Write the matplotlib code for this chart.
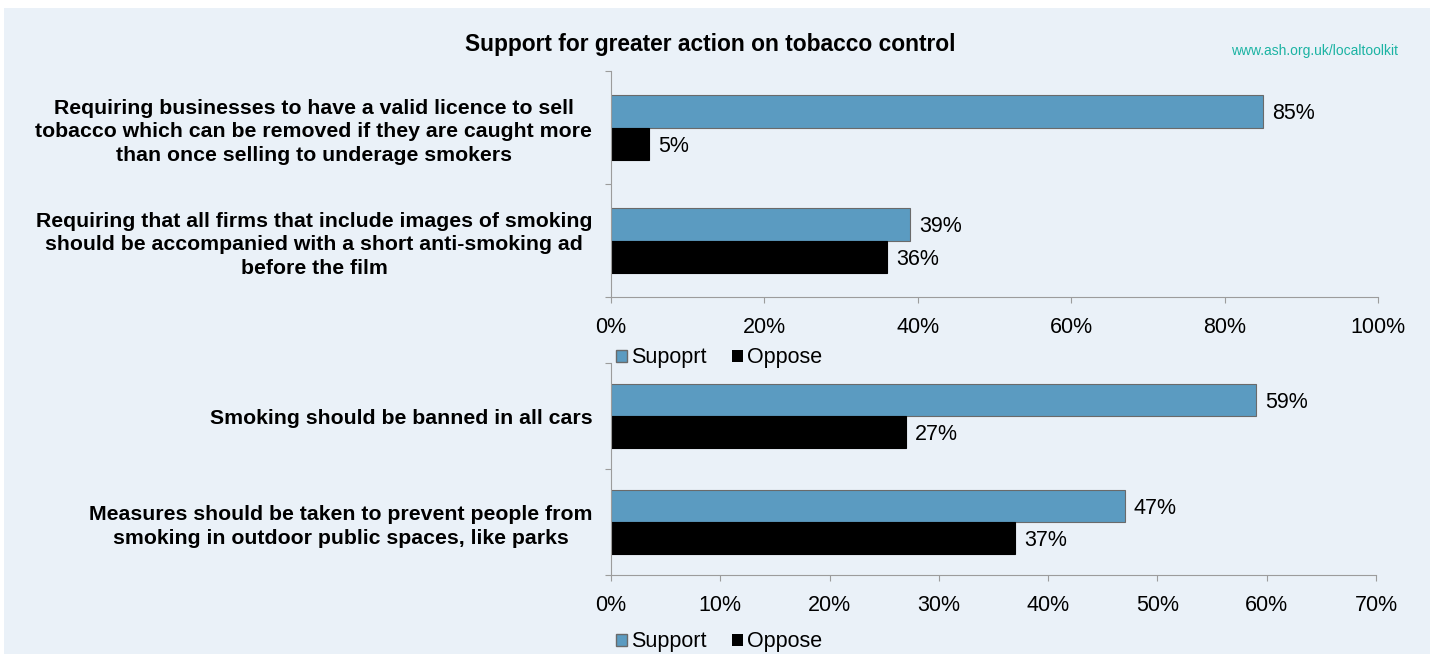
import matplotlib
matplotlib.use("Agg")
import matplotlib.pyplot as plt
from matplotlib.patches import Rectangle, Patch
import numpy as np

plt.rcParams['font.family'] = ['Liberation Sans', 'DejaVu Sans']

# top panel data
top_cats = ["Requiring businesses to have a valid licence to sell\ntobacco which can be removed if they are caught more\nthan once selling to underage smokers",
            "Requiring that all firms that include images of smoking\nshould be accompanied with a short anti-smoking ad\nbefore the film"]
top_support = [85, 39]
top_oppose = [5, 36]
top_ticks = [0, 20, 40, 60, 80, 100]

# bottom panel data
bot_cats = ["Smoking should be banned in all cars",
            "Measures should be taken to prevent people from\nsmoking in outdoor public spaces, like parks"]
bot_support = [59, 47]
bot_oppose = [27, 37]
bot_ticks = [0, 10, 20, 30, 40, 50, 60, 70]

bg = '#EAF1F8'
blue = '#5B9BC1'
axis_grey = '#9C9C9C'
fs = 15.5

fig = plt.figure(figsize=(14.3, 6.54), dpi=100, facecolor='white')
fig.patches.append(Rectangle((4/1430, 0), 1, 1 - 8/654, transform=fig.transFigure,
                             facecolor=bg, edgecolor='none', zorder=-10))


def panel(rect, cats, sup, opp, ticks, bh):
    ax = fig.add_axes(rect)
    ax.set_facecolor('none')
    y = np.arange(len(cats))
    ax.barh(y - bh/2, sup, height=bh, color=blue, edgecolor='#6A6A6A', linewidth=0.8)
    ax.barh(y + bh/2, opp, height=bh, color='black', edgecolor='black', linewidth=0.8)
    for yi, s, o in zip(y, sup, opp):
        ax.text(s + ticks[-1]*0.012, yi - bh/2, f"{s}%", va='center_baseline', ha='left', fontsize=fs)
        ax.text(o + ticks[-1]*0.012, yi + bh/2, f"{o}%", va='center_baseline', ha='left', fontsize=fs)
    ax.set_xlim(0, ticks[-1])
    ax.set_ylim(len(cats) - 0.5, -0.5)
    ax.set_xticks(ticks)
    ax.set_xticklabels([f"{t}%" for t in ticks], fontsize=fs)
    ax.set_yticks(np.arange(len(cats) + 1) - 0.5)
    ax.set_yticklabels([])
    ax.set_yticks(y, minor=True)
    ax.set_yticklabels(cats, minor=True, fontsize=15.3, fontweight='bold',
                       multialignment='center', linespacing=1.3)
    ax.tick_params(axis='y', which='minor', length=0, pad=13.5)
    ax.tick_params(axis='y', which='major', length=4.5, color=axis_grey, direction='out')
    ax.tick_params(axis='x', length=4.5, color=axis_grey, pad=10)
    for s in ['top', 'right']:
        ax.spines[s].set_visible(False)
    for s in ['left', 'bottom']:
        ax.spines[s].set_color(axis_grey)
    return ax


ax1 = panel([611/1430, 1 - 297/654, 767/1430, 226/654], top_cats, top_support, top_oppose, top_ticks, 0.29)
ax2 = panel([611/1430, 1 - 575/654, 765/1430, 212/654], bot_cats, bot_support, bot_oppose, bot_ticks, 0.30)

fig.text(710/1430, 1 - 45/654, "Support for greater action on tobacco control", ha='center', va='center',
         fontsize=16.4, fontweight='bold')
fig.text(1398/1430, 1 - 51/654, "www.ash.org.uk/localtoolkit", ha='right', va='center',
         fontsize=10, color='#1BB3A3')

h1 = [Patch(facecolor=blue, edgecolor='#6A6A6A'), Patch(facecolor='black')]
fig.legend(h1, ["Supoprt", "Oppose"], loc='center left', bbox_to_anchor=(616/1430, 1 - 358/654),
           ncol=2, frameon=False, fontsize=fs, handlelength=0.5, handleheight=0.5,
           handletextpad=0.2, columnspacing=1.2, borderpad=0, borderaxespad=0)
fig.legend(h1, ["Support", "Oppose"], loc='center left', bbox_to_anchor=(616/1430, 1 - 642/654),
           ncol=2, frameon=False, fontsize=fs, handlelength=0.5, handleheight=0.5,
           handletextpad=0.2, columnspacing=1.2, borderpad=0, borderaxespad=0)

fig.savefig("out.png", dpi=100, facecolor=fig.get_facecolor())
